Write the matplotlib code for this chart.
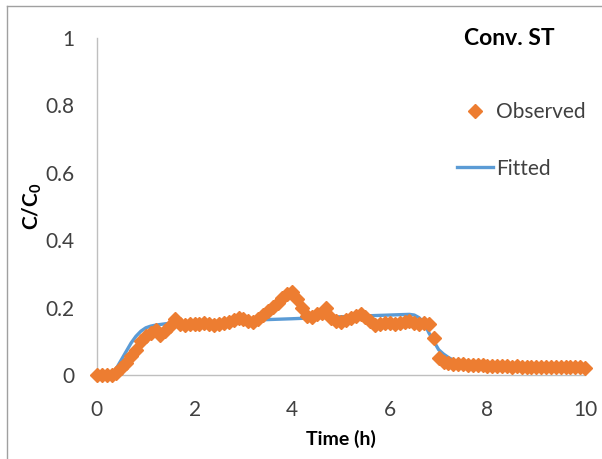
import matplotlib
matplotlib.use('Agg')
import matplotlib.pyplot as plt
from matplotlib.lines import Line2D

# observed breakthrough data, sampled every 0.1 h
obs_time = [round(i * 0.1, 1) for i in range(101)]
obs_c = [
    0.000, 0.000, 0.000, 0.000, 0.005, 0.020, 0.035, 0.055, 0.075, 0.100,
    0.115, 0.125, 0.135, 0.120, 0.130, 0.145, 0.165, 0.150, 0.148, 0.150,
    0.152, 0.150, 0.153, 0.150, 0.148, 0.152, 0.155, 0.158, 0.162, 0.170,
    0.165, 0.160, 0.158, 0.165, 0.178, 0.190, 0.202, 0.215, 0.228, 0.240,
    0.245, 0.225, 0.200, 0.175, 0.172, 0.180, 0.185, 0.200, 0.170, 0.160,
    0.158, 0.162, 0.168, 0.175, 0.182, 0.172, 0.160, 0.148, 0.150, 0.155,
    0.153, 0.150, 0.155, 0.158, 0.160, 0.155, 0.150, 0.155, 0.150, 0.110,
    0.050, 0.040, 0.036, 0.034, 0.032, 0.032, 0.030, 0.030, 0.029, 0.029,
    0.028, 0.027, 0.027, 0.026, 0.026, 0.025, 0.026, 0.025, 0.025, 0.024,
    0.025, 0.024, 0.025, 0.024, 0.024, 0.025, 0.024, 0.023, 0.024, 0.023,
    0.022,
]

# fitted model curve
fit_time = [0.0, 0.2, 0.3, 0.4, 0.5, 0.6, 0.7, 0.8, 0.9, 1.0, 1.1, 1.2, 1.4,
            1.6, 2.0, 3.0, 4.0, 5.0, 6.0, 6.4, 6.5, 6.6, 6.7, 6.8, 6.9, 7.0,
            7.1, 7.2, 7.3, 7.4, 7.6, 8.0, 9.0, 10.0]
fit_c = [0.0, 0.0, 0.0, 0.020, 0.045, 0.070, 0.095, 0.115, 0.130, 0.140,
         0.145, 0.148, 0.152, 0.155, 0.157, 0.162, 0.167, 0.173, 0.178, 0.180,
         0.178, 0.170, 0.155, 0.125, 0.100, 0.075, 0.062, 0.052, 0.044, 0.038,
         0.033, 0.029, 0.028, 0.027]

plt.rcParams['font.family'] = ['Lato', 'DejaVu Sans']

fig = plt.figure(figsize=(6.02, 4.59), dpi=100)
ax = fig.add_axes([0.161, 0.183, 0.811, 0.734])

ax.plot(fit_time, fit_c, color='#5B9BD5', lw=2.4, label='Fitted', zorder=2)
ax.plot(obs_time, obs_c, ls='none', marker='D', ms=7.5, color='#ED7D31',
        mec='#ED7D31', label='Observed', zorder=3, clip_on=False)

ax.set_xlim(0, 10)
ax.set_ylim(0, 1)
ax.set_xticks([0, 2, 4, 6, 8, 10])
ax.set_yticks([0, 0.2, 0.4, 0.6, 0.8, 1])
ax.set_yticklabels(['0', '0.2', '0.4', '0.6', '0.8', '1'])
ax.tick_params(length=0, labelsize=15, colors='#404040')
ax.tick_params(axis='x', pad=18)
ax.tick_params(axis='y', pad=16)
for s in ['top', 'right']:
    ax.spines[s].set_visible(False)
for s in ['left', 'bottom']:
    ax.spines[s].set_color('#BFBFBF')
    ax.spines[s].set_linewidth(1)

ax.set_xlabel('Time (h)', fontsize=14, fontweight='bold', labelpad=7)
ax.set_ylabel('C/C$_\\mathregular{0}$', fontsize=15, fontweight='bold',
              labelpad=1)

fig.text(0.846, 0.917, 'Conv. ST', fontsize=16.5, fontweight='bold',
         ha='center', va='center')

handles = [
    Line2D([], [], ls='none', marker='D', ms=7.5, color='#ED7D31'),
    Line2D([], [], color='#5B9BD5', lw=2.4),
]
fig.legend(handles, ['Observed', 'Fitted'], loc='upper left',
           bbox_to_anchor=(0.728, 0.818), frameon=False, fontsize=15,
           labelspacing=1.75, handlelength=1.75, handletextpad=0.12,
           labelcolor='#404040')

# outer chart border (only left and top edges visible)
fig.add_artist(Line2D([0.012, 0.012], [0.0, 0.987], color='#A0A0A0', lw=1))
fig.add_artist(Line2D([0.012, 1.0], [0.987, 0.987], color='#A0A0A0', lw=1))

fig.savefig('out.png', dpi=100)
